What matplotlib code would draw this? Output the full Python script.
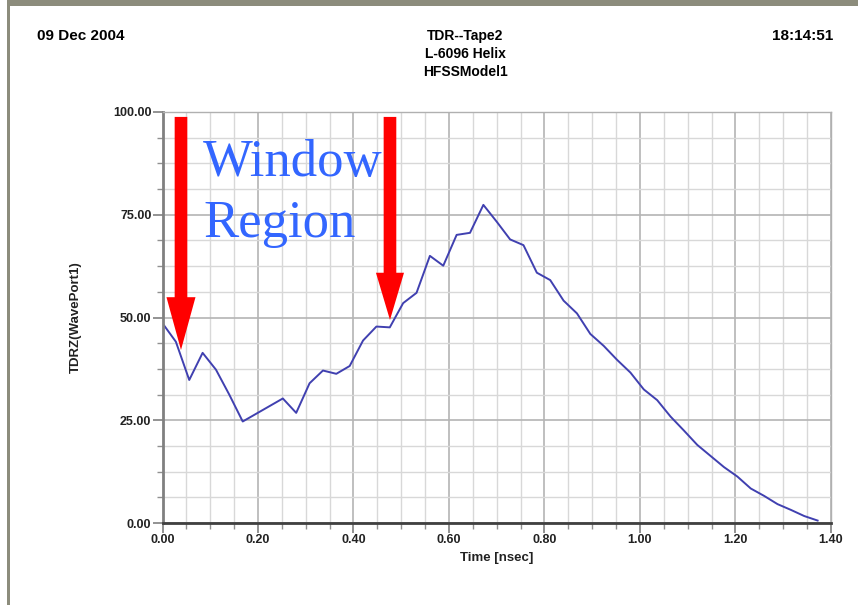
# TDR plot recreation - TDRZ(WavePort1) vs time

import matplotlib.pyplot as plt
from matplotlib.patches import FancyArrowPatch, Rectangle
from matplotlib.ticker import MultipleLocator

# time points (nsec) and impedance values
time_ns = [0.000, 0.028, 0.056, 0.084, 0.112, 0.140, 0.168, 0.252, 0.280, 0.308,
           0.336, 0.364, 0.392, 0.420, 0.448, 0.476, 0.504, 0.532, 0.560, 0.588,
           0.616, 0.644, 0.672, 0.700, 0.728, 0.756, 0.784, 0.812, 0.840, 0.868,
           0.896, 0.924, 0.952, 0.980, 1.008, 1.036, 1.064, 1.092, 1.120, 1.148,
           1.176, 1.204, 1.232, 1.260, 1.288, 1.316, 1.344, 1.372]
tdrz = [48.6, 44.1, 34.8, 41.4, 37.3, 31.2, 24.7, 30.3, 26.8, 34.0,
        37.1, 36.3, 38.2, 44.4, 47.8, 47.6, 53.5, 56.0, 65.0, 62.6,
        70.1, 70.6, 77.4, 73.3, 69.0, 67.6, 60.9, 59.1, 54.1, 51.0,
        46.0, 43.1, 39.7, 36.6, 32.5, 29.9, 25.9, 22.5, 19.0, 16.3,
        13.6, 11.3, 8.4, 6.6, 4.6, 3.2, 1.7, 0.6]

# header texts
date_txt = "09 Dec 2004"
title_lines = ["TDR--Tape2", "L-6096 Helix", "HFSSModel1"]
time_txt = "18:14:51"

plt.rcParams['font.family'] = ['Liberation Sans', 'DejaVu Sans']

fig = plt.figure(figsize=(8.58, 6.05), dpi=100)
fig.patch.set_facecolor('white')

# window frame (gray border top and left)
fig.patches.append(Rectangle((0.008, 0.990), 0.992, 0.010, transform=fig.transFigure,
                             facecolor='#8c8c7c', edgecolor='none'))
fig.patches.append(Rectangle((0.008, 0.0), 0.0035, 0.990, transform=fig.transFigure,
                             facecolor='#8c8c7c', edgecolor='none'))

# header
fig.text(0.043, 0.940, date_txt, fontsize=11, fontweight='bold', va='center', ha='left')
fig.text(0.971, 0.940, time_txt, fontsize=11, fontweight='bold', va='center', ha='right')
for i, line in enumerate(title_lines):
    fig.text(0.542, 0.940 - i * 0.0298, line, fontsize=10, fontweight='bold',
             va='center', ha='center')

ax = fig.add_axes([0.1894, 0.1355, 0.7791, 0.6794])
ax.plot(time_ns, tdrz, color='#4040b0', lw=1.4)

ax.set_xlim(0, 1.40)
ax.set_ylim(0, 100)
ax.xaxis.set_major_locator(MultipleLocator(0.2))
ax.xaxis.set_minor_locator(MultipleLocator(0.05))
ax.yaxis.set_major_locator(MultipleLocator(25))
ax.yaxis.set_minor_locator(MultipleLocator(6.25))
ax.xaxis.set_major_formatter(lambda v, p: f"{v:.2f}")
ax.yaxis.set_major_formatter(lambda v, p: f"{v:.2f}")

ax.grid(True, which='major', color='#b4b4b4', lw=1.2)
ax.grid(True, which='minor', color='#d8d8d8', lw=1.0)
ax.set_axisbelow(True)

for lbl in ax.get_xticklabels() + ax.get_yticklabels():
    lbl.set_fontweight('bold')
ax.tick_params(which='major', labelsize=9, length=7, width=1.2, color='#808080',
               labelcolor='#222222', pad=1)
ax.tick_params(which='minor', length=4, width=1.0, color='#909090')

for s in ['top', 'right']:
    ax.spines[s].set_color('#b0b0b0')
    ax.spines[s].set_linewidth(1.0)
ax.spines['left'].set_color('#808080')
ax.spines['left'].set_linewidth(2)
ax.spines['bottom'].set_color('#404040')
ax.spines['bottom'].set_linewidth(2)

ax.set_xlabel("Time [nsec]", fontsize=9.5, fontweight='bold', labelpad=4, color='#222222')
ax.set_ylabel("TDRZ(WavePort1)", fontsize=9.5, fontweight='bold', labelpad=22, color='#222222')

# red arrows marking the window region
ax.add_patch(FancyArrowPatch((0.0387, 98.8), (0.0387, 42.1), shrinkA=0, shrinkB=0,
                             arrowstyle='simple,head_width=20.9,head_length=38,tail_width=9.1',
                             mutation_scale=1, facecolor='#ff0000', edgecolor='none', zorder=5))
ax.add_patch(FancyArrowPatch((0.4764, 98.8), (0.4764, 49.4), shrinkA=0, shrinkB=0,
                             arrowstyle='simple,head_width=20.2,head_length=34,tail_width=9.1',
                             mutation_scale=1, facecolor='#ff0000', edgecolor='none', zorder=5))

ax.text(0.0848, 84.4, "Window", fontsize=38, family='Liberation Serif', color='#3366ff',
        ha='left', va='baseline', zorder=6)
ax.text(0.0848, 69.7, "Region", fontsize=38, family='Liberation Serif', color='#3366ff',
        ha='left', va='baseline', zorder=6)

fig.savefig("out.png", dpi=100)
